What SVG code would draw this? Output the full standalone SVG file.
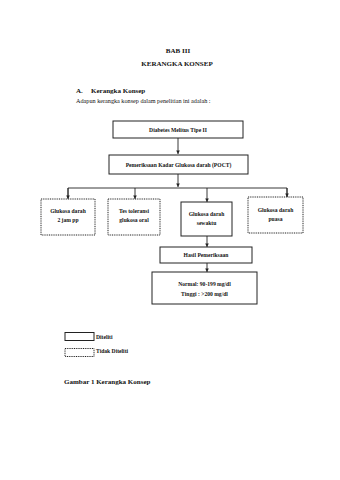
<svg xmlns="http://www.w3.org/2000/svg" width="340" height="480" viewBox="0 0 340 480">
<style>
text{font-family:"Liberation Serif","Times New Roman",serif;fill:#111}
.h{font-size:7px;font-weight:bold}
.p{font-size:6.2px}
.b{font-size:5.6px;font-weight:bold;text-anchor:middle}
.l{font-size:5.6px;font-weight:bold;text-anchor:start}
.s{fill:#fff;stroke:#222;stroke-width:1}
.d{fill:#fff;stroke:#222;stroke-width:1;stroke-dasharray:1 0.8}
.c{fill:none;stroke:#222;stroke-width:0.9}
</style>
<defs>
<marker id="ah" viewBox="0 0 6 6" refX="6" refY="3" markerWidth="4" markerHeight="4" orient="auto">
<path d="M0,0 L6,3 L0,6 z" fill="#222"/>
</marker>
</defs>
<rect width="340" height="480" fill="#fff"/>
<text class="h" x="178" y="53" text-anchor="middle">BAB III</text>
<text class="h" x="177" y="66" text-anchor="middle">KERANGKA KONSEP</text>
<text class="h" x="76" y="93">A.</text>
<text class="h" x="91" y="93">Kerangka Konsep</text>
<text class="p" x="76" y="103">Adapun kerangka konsep dalam penelitian ini adalah :</text>

<g id="connectors">
<path class="c" d="M178,138 V154" marker-end="url(#ah)"/>
<path class="c" d="M178,174 V187"  marker-end="url(#ah)"/>
<path class="c" d="M68,198 V188 H287 V197"/>
<path class="c" d="M68,188 V199" marker-end="url(#ah)"/>
<path class="c" d="M135,188 V199" marker-end="url(#ah)"/>
<path class="c" d="M207,188 V202" marker-end="url(#ah)"/>
<path class="c" d="M287,188 V197" marker-end="url(#ah)"/>
<path class="c" d="M207,236 V247" marker-end="url(#ah)"/>
<path class="c" d="M207,263 V272" marker-end="url(#ah)"/>
</g>

<g id="dm">
<rect class="s" x="113" y="121" width="130" height="17"/>
<text class="b" x="178" y="131.5">Diabetes Melitus Tipe II</text>
</g>
<g id="poct">
<rect class="s" x="109" y="155" width="139" height="19"/>
<text class="b" x="178.5" y="166.5">Pemeriksaan Kadar Glukosa darah (POCT)</text>
</g>
<g id="gd2jpp">
<rect class="d" x="41" y="199" width="54" height="36"/>
<text class="b" x="68" y="213">Glukosa darah</text>
<text class="b" x="68" y="222">2 jam pp</text>
</g>
<g id="tgo">
<rect class="d" x="108" y="199" width="52" height="36"/>
<text class="b" x="134" y="213">Tes toleransi</text>
<text class="b" x="134" y="222">glukosa oral</text>
</g>
<g id="gds">
<rect class="s" x="181" y="202" width="51" height="34" stroke-width="1.2"/>
<text class="b" x="206.5" y="216">Glukosa darah</text>
<text class="b" x="206.5" y="225">sewaktu</text>
</g>
<g id="gdp">
<rect class="d" x="248" y="197" width="55" height="36"/>
<text class="b" x="275.5" y="212">Glukosa darah</text>
<text class="b" x="275.5" y="221">puasa</text>
</g>
<g id="hasil">
<rect class="s" x="160" y="247" width="92" height="16"/>
<text class="b" x="206" y="257">Hasil Pemeriksaan</text>
</g>
<g id="nilai">
<rect class="s" x="152" y="272" width="105" height="32"/>
<text class="b" x="204.5" y="285.5">Normal:  90-199 mg/dl</text>
<text class="b" x="204.5" y="295.5">Tinggi : &gt;200 mg/dl</text>
</g>

<g id="legend-diteliti">
<rect class="s" x="65" y="332.5" width="29" height="8"/>
<text class="l" x="96" y="338.5">Diteliti</text>
</g>
<g id="legend-tidak">
<rect class="d" x="65" y="348.5" width="29" height="8"/>
<text class="l" x="96" y="353">Tidak Diteliti</text>
</g>
<text class="h" x="64" y="384">Gambar 1 Kerangka Konsep</text>
</svg>
